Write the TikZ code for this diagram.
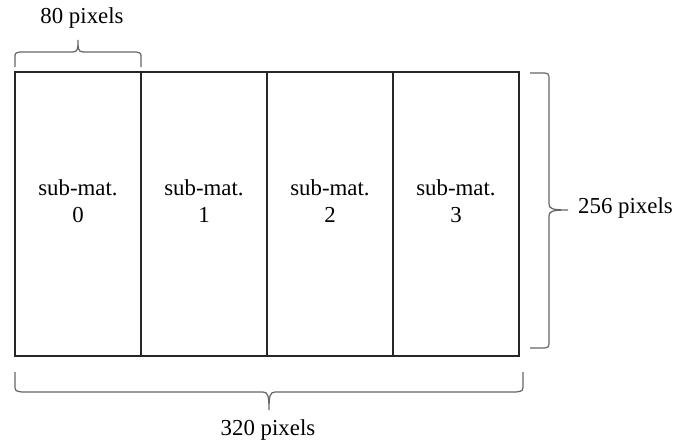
\documentclass[tikz,border=0pt]{standalone}
\usepackage{fontspec}
\setmainfont{Liberation Serif}

\begin{document}
\begin{tikzpicture}[x=0.02cm,y=-0.02cm,
  cell/.style={draw=black!85,line width=0.9pt,minimum width=2.52cm,minimum height=5.68cm,inner sep=0pt},
  lbl/.style={align=center,font=\fontsize{13}{15.5}\selectfont},
  brc/.style={draw=black!60,line width=0.7pt}]

\useasboundingbox (0,0) rectangle (681,443);

\foreach \i in {0,...,3}{
  \node[cell] (cell\i) at ({78+126*\i},214) {};
  \node[lbl] (txt\i) at ({78+126*\i},201) {sub-mat.\\\i};
}

\coordinate (TL) at (15,67);
\coordinate (TR) at (141,67);
\coordinate (RT) at (530,73);
\coordinate (RB) at (530,348);
\coordinate (BR) at (523,372);
\coordinate (BL) at (15,372);

% braces
\draw[brc] (TL) -- (15,58) .. controls (15,53) .. (20,52) -- (73,52)
  .. controls (78,52) and (78,48) .. (78,40)
  .. controls (78,48) and (78,52) .. (83,52) -- (136,52)
  .. controls (141,53) .. (141,58) -- (TR);
\draw[brc] (RT) -- (541,73) .. controls (549,73) .. (549,81) -- (549,204)
  .. controls (549,209) and (553,210) .. (568,210)
  .. controls (553,210) and (549,211) .. (549,216) -- (549,340)
  .. controls (549,348) .. (541,348) -- (RB);
\draw[brc] (BL) -- (15,384) .. controls (15,391) .. (22,392) -- (263,392)
  .. controls (268,392) and (269,396) .. (269,410)
  .. controls (269,396) and (270,392) .. (275,392) -- (516,392)
  .. controls (523,391) .. (523,384) -- (BR);

\node[lbl] (w80) at (82,18) {80 pixels};
\node[lbl,anchor=west] (h256) at (572,208) {256 pixels};
\node[lbl] (w320) at (268,430) {320 pixels};

\end{tikzpicture}
\end{document}
